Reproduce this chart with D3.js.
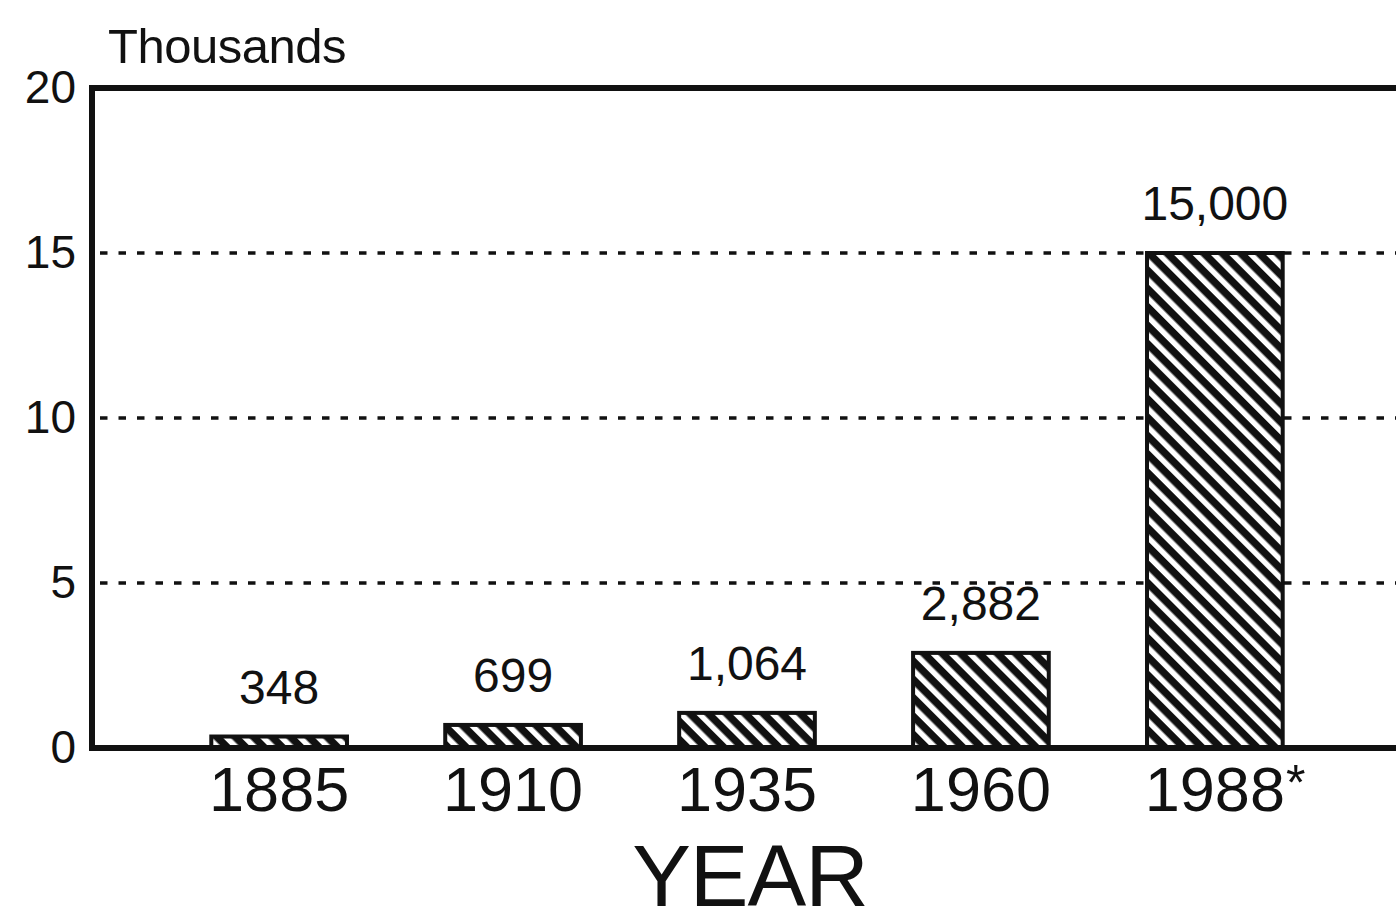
<!DOCTYPE html>
<html>
<head>
<meta charset="utf-8">
<script src="https://cdn.jsdelivr.net/npm/d3@7"></script>
<style>
  html, body { margin: 0; padding: 0; background: #fff; overflow: hidden; }
  text { font-family: "Liberation Sans", Arial, Helvetica, sans-serif; fill: #111; }
</style>
</head>
<body>
<svg id="chart" width="1396" height="910"></svg>
<script>
// Data -----------------------------------------------------------
const years = ["1885", "1910", "1935", "1960", "1988*"];
const values = [348, 699, 1064, 2882, 15000];
const yTicks = [0, 5000, 10000, 15000, 20000];
const gridTicks = [5000, 10000, 15000];
const unitLabel = "Thousands";
const axisTitle = "YEAR";
// ------------------------------------------------------------

const svg = d3.select("#chart");
const width = 1396, height = 910;

// plot frame (right edge runs just past the window, as in the scan)
const plotLeft = 92, plotRight = 1402, plotTop = 88, plotBottom = 748;

const x = d3.scaleBand()
    .domain(years)
    .range([plotLeft, plotRight])
    .paddingInner(0.42)
    .paddingOuter(0.51);

const y = d3.scaleLinear()
    .domain([0, 20000])
    .range([plotBottom, plotTop]);

svg.append("rect")
    .attr("width", width)
    .attr("height", height)
    .attr("fill", "#fff");

// Hatch pattern for the bars (45 degree, top-left to bottom-right)
const defs = svg.append("defs");
const hatch = defs.append("pattern")
    .attr("id", "hatch")
    .attr("patternUnits", "userSpaceOnUse")
    .attr("width", 10)
    .attr("height", 13)
    .attr("patternTransform", "rotate(45)");
hatch.append("rect")
    .attr("width", 10)
    .attr("height", 13)
    .attr("fill", "#fff");
hatch.append("rect")
    .attr("y", 0)
    .attr("width", 10)
    .attr("height", 7.5)
    .attr("fill", "#111");

// Dotted gridlines
svg.append("g")
    .selectAll("line")
    .data(gridTicks)
    .join("line")
    .attr("x1", plotLeft + 8)
    .attr("x2", plotRight)
    .attr("y1", d => y(d))
    .attr("y2", d => y(d))
    .attr("stroke", "#111")
    .attr("stroke-width", 3.4)
    .attr("stroke-dasharray", "7.5,11");

// Y axis tick labels (in thousands)
const yAxis = d3.axisLeft(y)
    .tickValues(yTicks)
    .tickFormat(d => d / 1000)
    .tickSize(0)
    .tickPadding(16);

svg.append("g")
    .attr("transform", `translate(${plotLeft},0)`)
    .call(yAxis)
    .call(g => g.select(".domain").remove())
    .call(g => g.selectAll("text")
        .attr("font-size", 46)
        .attr("fill", "#111")
        .attr("font-family", "Liberation Sans, Arial, sans-serif"));

// Bars
svg.append("g")
    .selectAll("rect")
    .data(values)
    .join("rect")
    .attr("x", (d, i) => x(years[i]))
    .attr("y", d => y(d))
    .attr("width", x.bandwidth())
    .attr("height", d => y(0) - y(d))
    .attr("fill", "url(#hatch)")
    .attr("stroke", "#111")
    .attr("stroke-width", 4);

// Value labels above the bars
const fmt = d3.format(",");
svg.append("g")
    .selectAll("text")
    .data(values)
    .join("text")
    .attr("x", (d, i) => x(years[i]) + x.bandwidth() / 2)
    .attr("y", d => y(d) - 33)
    .attr("text-anchor", "middle")
    .attr("font-size", 48)
    .text(d => fmt(d));

// Frame: top, left and baseline
svg.append("rect")
    .attr("x", plotLeft)
    .attr("y", plotTop)
    .attr("width", plotRight - plotLeft)
    .attr("height", plotBottom - plotTop)
    .attr("fill", "none")
    .attr("stroke", "#111")
    .attr("stroke-width", 6);

// Year labels (asterisk set as a superscript after the digits)
const yearG = svg.append("g");
years.forEach(label => {
    const main = label.replace("*", "");
    const cx = x(label) + x.bandwidth() / 2;
    const t = yearG.append("text")
        .attr("x", cx)
        .attr("y", 811)
        .attr("text-anchor", "middle")
        .attr("font-size", 63)
        .text(main);
    if (label.endsWith("*")) {
        const w = t.node().getComputedTextLength();
        yearG.append("text")
            .attr("x", cx + w / 2 + 1)
            .attr("y", 800)
            .attr("font-size", 50)
            .text("*");
    }
});

// Unit label and axis title
svg.append("text")
    .attr("x", 108)
    .attr("y", 63)
    .attr("font-size", 49)
    .attr("letter-spacing", -0.5)
    .text(unitLabel);

svg.append("text")
    .attr("x", 750)
    .attr("y", 906)
    .attr("text-anchor", "middle")
    .attr("font-size", 88)
    .attr("letter-spacing", -1)
    .text(axisTitle);
</script>
</body>
</html>
